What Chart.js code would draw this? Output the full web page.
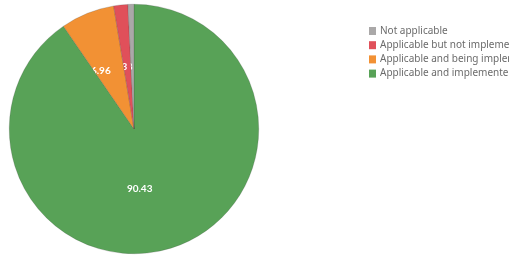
<!DOCTYPE html>
<html><head><meta charset="utf-8">
<script src="https://cdn.jsdelivr.net/npm/chart.js@4"></script>
<style>html,body{margin:0;padding:0;background:#fff;}#wrap{width:532px;height:263px;}</style>
</head><body><div id="wrap"><canvas id="c" width="532" height="263"></canvas></div>
<script>
const categories = ["Applicable and implemented", "Applicable and being implemented", "Applicable but not implemented", "Not applicable"];
const values = [90.43, 6.96, 1.83, 0.78];
const colors = ["#58a257", "#f29134", "#e0505a", "#aaa8a8"];

const sliceLabels = {
  id: 'sliceLabels',
  afterDatasetsDraw(chart) {
    const ctx = chart.ctx;
    const meta = chart.getDatasetMeta(0);
    meta.data.forEach((arc, i) => {
      const p = arc.tooltipPosition();
      ctx.save();
      ctx.beginPath();
      ctx.moveTo(arc.x, arc.y);
      ctx.arc(arc.x, arc.y, arc.outerRadius, arc.startAngle, arc.endAngle);
      ctx.closePath();
      ctx.clip();
      ctx.fillStyle = '#ffffff';
      ctx.font = 'bold 10px Lato';
      ctx.textAlign = 'right';
      ctx.textBaseline = 'middle';
      ctx.fillText(values[i].toFixed(2), p.x, p.y);
      ctx.restore();
    });
  }
};

const sideLegend = {
  id: 'sideLegend',
  afterDraw(chart) {
    const ctx = chart.ctx;
    ctx.save();
    ctx.beginPath();
    ctx.rect(0, 0, 509, chart.height);
    ctx.clip();
    ctx.font = '10px "Noto Sans"';
    ctx.textBaseline = 'middle';
    ctx.textAlign = 'left';
    const order = [3, 2, 1, 0];
    order.forEach((idx, row) => {
      const y = 31 + row * 14.2;
      ctx.fillStyle = colors[idx];
      ctx.fillRect(369, y - 4, 7, 8);
      ctx.fillStyle = '#6b6b6b';
      ctx.fillText(categories[idx], 380, y);
    });
    ctx.restore();
  }
};

new Chart(document.getElementById('c'), {
  type: 'pie',
  data: { labels: categories, datasets: [{ data: values, backgroundColor: colors, borderWidth: 0.5, borderColor: 'rgba(60,60,60,0.4)' }] },
  options: {
    responsive: false, animation: false,
    layout: { padding: { left: 9, right: 273, top: 4, bottom: 9 } },
    plugins: { legend: { display: false }, tooltip: { enabled: false } }
  },
  plugins: [sliceLabels, sideLegend]
});
</script></body></html>
